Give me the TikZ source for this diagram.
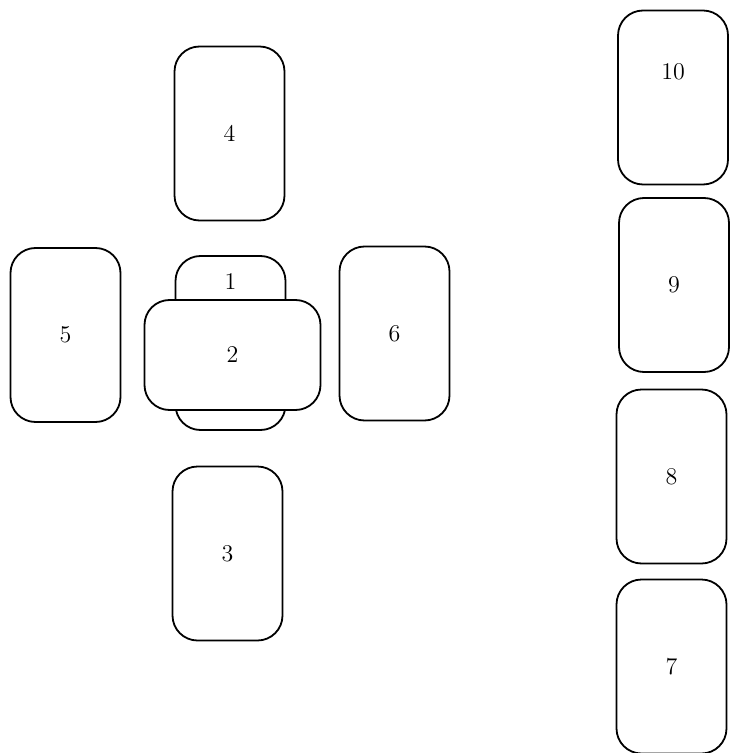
\documentclass[tikz,border=0pt]{standalone}
\usepackage{tikz}

\tikzset{
	card/.style={draw, line width=0.9pt, rounded corners=12.5pt, fill=white,
		minimum width=55pt, minimum height=87pt, inner sep=0pt, font=\fontsize{12}{14}\selectfont},
	crosscard/.style={card, minimum width=88pt, minimum height=55pt},
	cardnum/.style={font=\fontsize{12}{14}\selectfont}
}

\begin{document}
\begin{tikzpicture}[x=0.5pt, y=-0.5pt]
		\useasboundingbox (0,0) rectangle (729,753);
		% the cross
		\node [card] (c4) at (229.5, 133.5) {4};
		\node [card] (c5) at (65.5, 335) {5};
		\node [card] (c1) at (230.5, 343) {};
		\node [cardnum] (n1) at (230.5, 282) {1};
		\node [crosscard] (c2) at (232.5, 355) {2};
		\node [card] (c6) at (394.5, 333.5) {6};
		\node [card] (c3) at (227.5, 553.5) {3};
		% the staff
		\node [card] (c10) at (673, 97.5) {};
		\node [cardnum] (n10) at (673, 72) {10};
		\node [card] (c9) at (674, 285) {9};
		\node [card] (c8) at (671.5, 476.5) {8};
		\node [card] (c7) at (671.5, 666.5) {7};
	\end{tikzpicture}
\end{document}
